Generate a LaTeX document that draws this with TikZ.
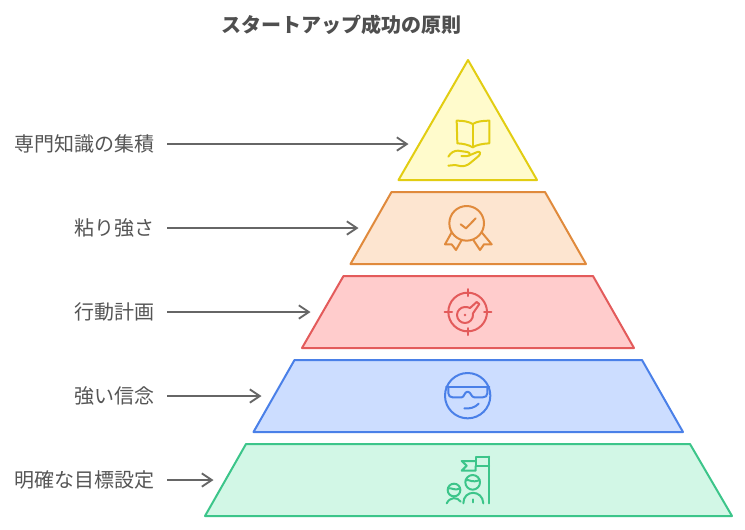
\documentclass[tikz,border=0pt]{standalone}
\usepackage{fontspec}
\setmainfont{Noto Sans CJK JP}
\usetikzlibrary{arrows.meta}
\definecolor{txt}{HTML}{555555}
\definecolor{ttlc}{HTML}{4F4F4F}
\definecolor{conn}{HTML}{666666}
\definecolor{yf}{HTML}{FFFBCC}\definecolor{ys}{HTML}{E2CD12}
\definecolor{of}{HTML}{FDE5D0}\definecolor{os}{HTML}{E08A3C}
\definecolor{rf}{HTML}{FFCCCC}\definecolor{rs}{HTML}{E35B5B}
\definecolor{bf}{HTML}{CCDDFF}\definecolor{bs}{HTML}{4A80E8}
\definecolor{gf}{HTML}{D2F7E6}\definecolor{gs}{HTML}{3CC58A}
\tikzset{
  tier/.style={line width=1.5pt,line join=round},
  ico/.style={line width=1.5pt,line cap=round,line join=round},
  lab/.style={anchor=east,inner sep=0pt,text=txt,font=\fontsize{15}{18}\selectfont},
  ttl/.style={anchor=center,inner sep=0pt,text=ttlc,font=\fontsize{15}{18}\selectfont\bfseries},
  conn/.style={draw=conn,line width=1.5pt,-{Straight Barb[length=7.5pt,width=10pt,line width=1.4pt]}},
}
\begin{document}
\begin{tikzpicture}[x=0.75pt,y=-0.75pt]
\useasboundingbox (0,0) rectangle (745,529);
\fill[white] (0,0) rectangle (745,529);
\node[ttl] (title) at (341.5,24.5) {スタートアップ成功の原則};
% tiers
\draw[tier,fill=yf,draw=ys] (468,60)--(537,180)--(398.5,180)--cycle;
\draw[tier,fill=of,draw=os] (391.5,192)--(545,192)--(586,264)--(350.5,264)--cycle;
\draw[tier,fill=rf,draw=rs] (343.5,276)--(593,276)--(634,348)--(302,348)--cycle;
\draw[tier,fill=bf,draw=bs] (294.5,360)--(642,360)--(683,432)--(253.5,432)--cycle;
\draw[tier,fill=gf,draw=gs] (246,444)--(690,444)--(732,516)--(205,516)--cycle;
% labels
\node[lab] (l1) at (155,144) {専門知識の集積};
\node[lab] (l2) at (155,228) {粘り強さ};
\node[lab] (l3) at (155,312) {行動計画};
\node[lab] (l4) at (155,396) {強い信念};
\node[lab] (l5) at (155,480) {明確な目標設定};
\coordinate (t1) at (408.5,144);
\coordinate (t2) at (358.5,228);
\coordinate (t3) at (310.5,312);
\coordinate (t4) at (261.5,396);
\coordinate (t5) at (213.5,480);
\foreach \i in {1,...,5}{
  \draw[conn] ([xshift=9pt]l\i.east) -- (t\i);
}
% book + hand
\begin{scope}[shift={(430,100)},x=0.25pt,y=-0.25pt,ico,draw=ys]
\draw (128,72) .. controls (115,64) and (98,62) .. (80,62) -- (82,130) .. controls (100,131) and (115,134) .. (128,142) .. controls (140,134) and (160,131) .. (178,130) -- (178,62) .. controls (160,62) and (140,64) .. (128,72) -- cycle;
\draw (128,72) -- (128,142);
\draw (55,170) .. controls (62,158) and (72,152) .. (84,152) -- (112,156) .. controls (122,158) and (122,168) .. (112,168) -- (94,168);
\draw (118,166) -- (142,156) .. controls (150,153) and (154,160) .. (146,168) -- (122,188) .. controls (112,197) and (100,200) .. (90,198) -- (75,195) -- (55,197);
\end{scope}
% medal
\begin{scope}[shift={(430,195)},x=0.25pt,y=-0.25pt,ico,draw=os]
\draw (110,85) circle[radius=13pt];
\draw (92,88)--(108,100)--(137,70);
\draw (65,112)--(45,148)--(65,148)--(78,165)--(95,135);
\draw (155,112)--(185,148)--(162,148)--(150,165)--(130,135);
\end{scope}
% target + key
\begin{scope}[shift={(430,280)},x=0.25pt,y=-0.25pt,ico,draw=rs]
\draw (113,96) circle[radius=14.5pt];
\draw (113,27)--(113,48) (113,144)--(113,165) (44,96)--(66,96) (162,96)--(184,96);
\draw (120,84) -- (140,66) -- (148,72) -- (129,100) .. controls (131,118) and (118,129) .. (105,129) .. controls (92,129) and (81,118) .. (81,105) .. controls (81,92) and (92,81) .. (105,81) .. controls (111,81) and (116,82) .. (120,84) -- cycle;
\fill[rs] (105,105) circle[radius=1.1pt];
\end{scope}
% sunglasses
\begin{scope}[shift={(430,365)},x=0.25pt,y=-0.25pt,ico,draw=bs]
\draw (113,92) circle[radius=17pt];
\draw (48,66)--(178,66);
\draw (55,68)--(55,85) .. controls (56,93) and (60,97) .. (68,97) -- (95,97) .. controls (103,97) and (103,80) .. (113,80) .. controls (123,80) and (123,97) .. (133,97) -- (158,97) .. controls (166,97) and (172,93) .. (172,85) -- (172,68);
\draw (103,130) .. controls (118,132) and (135,128) .. (146,116);
\end{scope}
% flag + people
\begin{scope}[shift={(430,450)},x=0.25pt,y=-0.25pt,ico,draw=gs]
\draw (177,20)--(177,160);
\draw (177,20)--(137,20)--(137,48)--(177,48);
\draw (137,33)--(95,33)--(110,47)--(95,62)--(137,62)--(137,48);
\draw (128,97) circle[radius=5.5pt];
\draw (107,90) .. controls (120,88) and (125,100) .. (149,90);
\draw (100,160) .. controls (100,118) and (158,118) .. (160,160);
\draw (128,148)--(128,157);
\draw (72,120) circle[radius=4.75pt];
\draw (54,115) .. controls (65,112) and (75,124) .. (90,115);
\draw (50,160) .. controls (60,140) and (82,140) .. (92,155);
\end{scope}
\end{tikzpicture}
\end{document}
